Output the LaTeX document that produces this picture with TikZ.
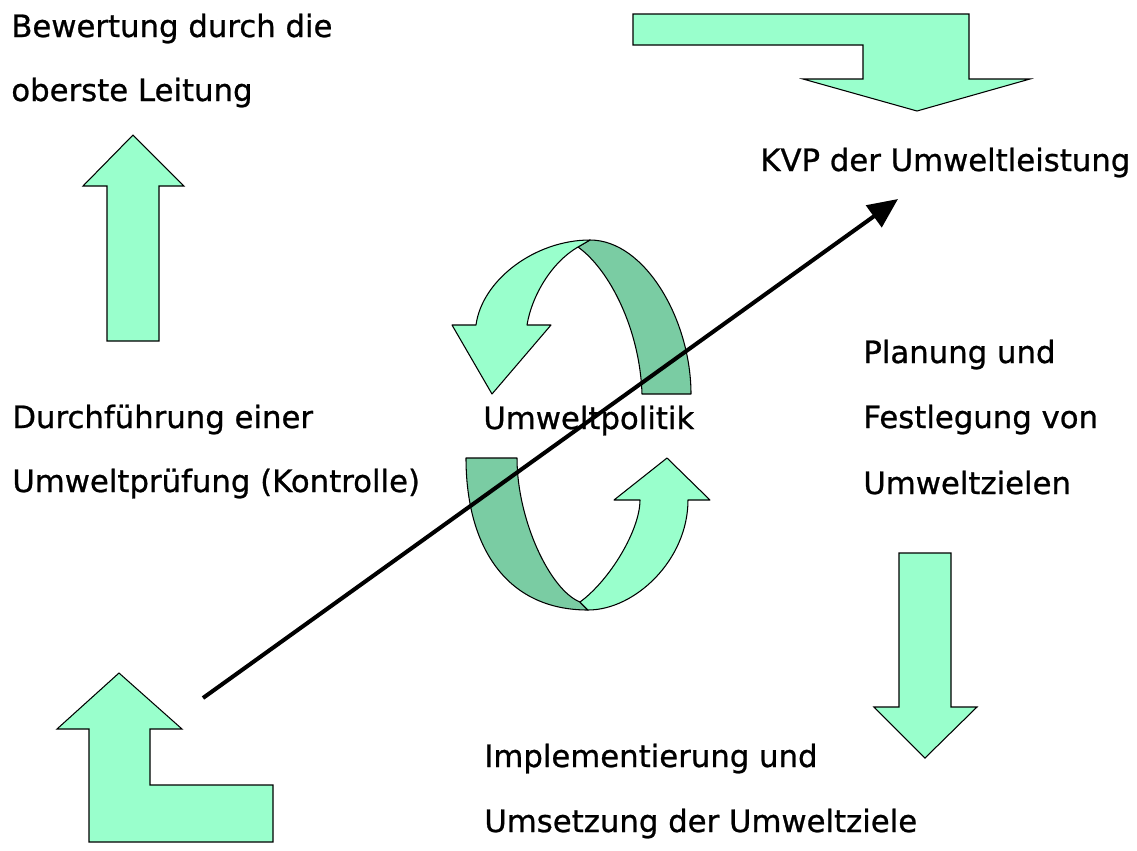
\documentclass[tikz,border=0pt]{standalone}
\usepackage{fontspec}
\setmainfont{DejaVu Sans}
\newfontfamily\lblfam{DejaVu Sans}[BoldFont={DejaVu Sans}, BoldFeatures={FakeBold=0.8}]
\usetikzlibrary{arrows.meta}
\definecolor{ringlight}{HTML}{99FFCC}
\definecolor{ringdark}{HTML}{7ACCA3}
\newcommand{\lblfont}{\lblfam\bfseries\fontsize{17.5}{21}\selectfont}
\tikzset{
  blockarrow/.style={draw=black, fill=ringlight, line width=0.6pt, line join=miter},
  ribbonlight/.style={draw=black, fill=ringlight, line width=0.6pt, line join=round},
  ribbondark/.style={draw=black, fill=ringdark, line width=0.6pt, line join=round},
  lbl/.style={anchor=base west, inner sep=0pt, font=\lblfont},
  trend/.style={line width=2.3pt, -{Triangle[length=17pt,width=15pt]}}
}

\begin{document}
\begin{tikzpicture}[x=0.02cm, y=-0.02cm]
\useasboundingbox (0,0) rectangle (1137,850);

	%block arrows
	\draw[blockarrow] (633,14) -- (969,14) -- (969,79) -- (1030,79) -- (917,111) -- (803,79) -- (863,79) -- (863,45) -- (633,45) -- cycle;
	\draw[blockarrow] (133,135) -- (184,186) -- (159,186) -- (159,341) -- (107,341) -- (107,186) -- (83,186) -- cycle;
	\draw[blockarrow] (899,553) -- (951,553) -- (951,707) -- (977,707) -- (925,758) -- (874,707) -- (899,707) -- cycle;
	\draw[blockarrow] (119,673) -- (182,729) -- (150,729) -- (150,785) -- (273,785) -- (273,842) -- (89,842) -- (89,729) -- (57,729) -- cycle;

	%circle arrows
	\draw[ribbondark] (590,240) .. controls (645,240) and (691,320) .. (691,394) -- (642,394) .. controls (640,330) and (610,270) .. (578,247) -- cycle;
	\draw[ribbonlight] (452,325) -- (476,325) .. controls (482,280) and (535,240) .. (590,240) -- (578,247) .. controls (552,262) and (532,295) .. (527,325) -- (551,325) -- (492,394) -- cycle;
	\draw[ribbondark] (466,458) -- (517,458) .. controls (517,520) and (550,590) .. (580,602) -- (588,610) .. controls (505,610) and (466,545) .. (466,458) -- cycle;
	\draw[ribbonlight] (588,610) .. controls (635,610) and (688,560) .. (688,500) -- (710,500) -- (667,458) -- (614,500) -- (640,500) .. controls (640,530) and (610,580) .. (580,602) -- cycle;

	%labels
	\node[lbl] (bewertung1) at (11,37) {Bewertung durch die};
	\node[lbl] (bewertung2) at (11,101) {oberste Leitung};
	\node[lbl] (kvp) at (760,171) {KVP der Umweltleistung};
	\node[lbl] (pruefung1) at (12,428) {Durchführung einer};
	\node[lbl] (pruefung2) at (12,492) {Umweltprüfung (Kontrolle)};
	\node[lbl] (politik) at (483,429) {Umweltpolitik};
	\node[lbl] (planung1) at (863,363) {Planung und};
	\node[lbl] (planung2) at (863,428) {Festlegung von};
	\node[lbl] (planung3) at (863,494) {Umweltzielen};
	\node[lbl] (umsetzung1) at (484,767) {Implementierung und};
	\node[lbl] (umsetzung2) at (484,832) {Umsetzung der Umweltziele};

	%improvement arrow
	\coordinate (trendstart) at (203,698);
	\coordinate (trendend) at (898,199);
	\draw[trend] (trendstart) -- (trendend);
\end{tikzpicture}
\end{document}
